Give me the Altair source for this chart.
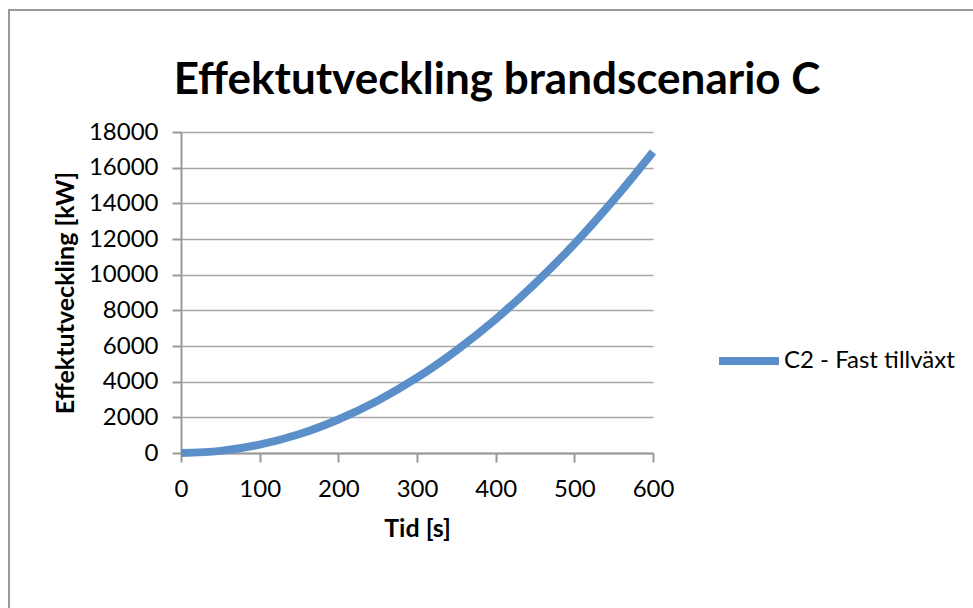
import altair as alt
import pandas as pd

# Heat release rate for fire scenario C2 (fast growth), read every 50 s
tid_s = [0, 50, 100, 150, 200, 250, 300, 350, 400, 450, 500, 550, 600]
effekt_kw = [0, 120, 470, 1050, 1880, 2930, 4220, 5750, 7500, 9500, 11720, 14190, 16880]
serie = "C2 - Fast tillväxt"

x_ticks = [0, 100, 200, 300, 400, 500, 600]
y_ticks = [0, 2000, 4000, 6000, 8000, 10000, 12000, 14000, 16000, 18000]

df = pd.DataFrame({"Tid": tid_s, "Effekt": effekt_kw, "Serie": [serie] * len(tid_s)})

FONT = "Lato"
W, H = 472, 321
LEFT, TOP = 181, 132

line = alt.Chart(df).mark_line(
    strokeWidth=8, strokeCap="butt", interpolate="monotone", clip=False
).encode(
    x=alt.X(
        "Tid:Q",
        title="Tid [s]",
        scale=alt.Scale(domain=[0, 600], nice=False, zero=False),
        axis=alt.Axis(values=x_ticks, grid=False, labelFlush=False, format="d"),
    ),
    y=alt.Y(
        "Effekt:Q",
        title="Effektutveckling [kW]",
        scale=alt.Scale(domain=[0, 18000], nice=False),
        axis=alt.Axis(values=y_ticks, grid=True, labelFlush=False, format="d"),
    ),
    color=alt.Color(
        "Serie:N",
        title=None,
        scale=alt.Scale(range=["#5B8FC9"]),
        legend=alt.Legend(
            orient="none",
            legendX=534,
            legendY=195,
            padding=0,
            symbolType="stroke",
            symbolSize=3600,
            symbolStrokeWidth=8,
            labelOffset=1,
            labelFontSize=24,
            labelFont=FONT,
            labelColor="#000000",
            labelLimit=400,
        ),
    ),
)

# outer chart frame
frame = alt.Chart(pd.DataFrame({"k": [0]})).mark_rect(
    fillOpacity=0, stroke="#999999", strokeWidth=2, clip=False
).encode(
    x=alt.value(9 - LEFT),
    y=alt.value(10 - TOP),
    x2=alt.value(973 - LEFT + 20),
    y2=alt.value(608 - TOP + 20),
)

chart = (
    alt.layer(frame, line)
    .properties(
        width=W,
        height=H,
        autosize=alt.AutoSizeParams(type="none"),
        padding={"left": LEFT, "top": TOP, "right": 973 - LEFT - W, "bottom": 608 - TOP - H},
        title=alt.TitleParams(
            "Effektutveckling brandscenario C",
            font=FONT,
            fontSize=44,
            fontWeight="bold",
            color="#000000",
            anchor="middle",
            baseline="alphabetic",
            dx=80,
            dy=129,
            offset=0,
        ),
    )
    .configure_view(stroke=None)
    .configure_axis(
        domainColor="#999999",
        domainWidth=2,
        tickColor="#999999",
        tickWidth=2,
        tickSize=9,
        gridColor="#A6A6A6",
        gridWidth=1.5,
        labelFont=FONT,
        labelFontSize=24,
        labelColor="#000000",
        titleFont=FONT,
        titleFontSize=25,
        titleFontWeight="bold",
        titleColor="#000000",
    )
    .configure_axisY(labelPadding=14, titlePadding=10)
    .configure_axisX(labelPadding=15, titlePadding=15)
)

chart.save("out.html", embed_options={"renderer": "svg", "actions": False})
